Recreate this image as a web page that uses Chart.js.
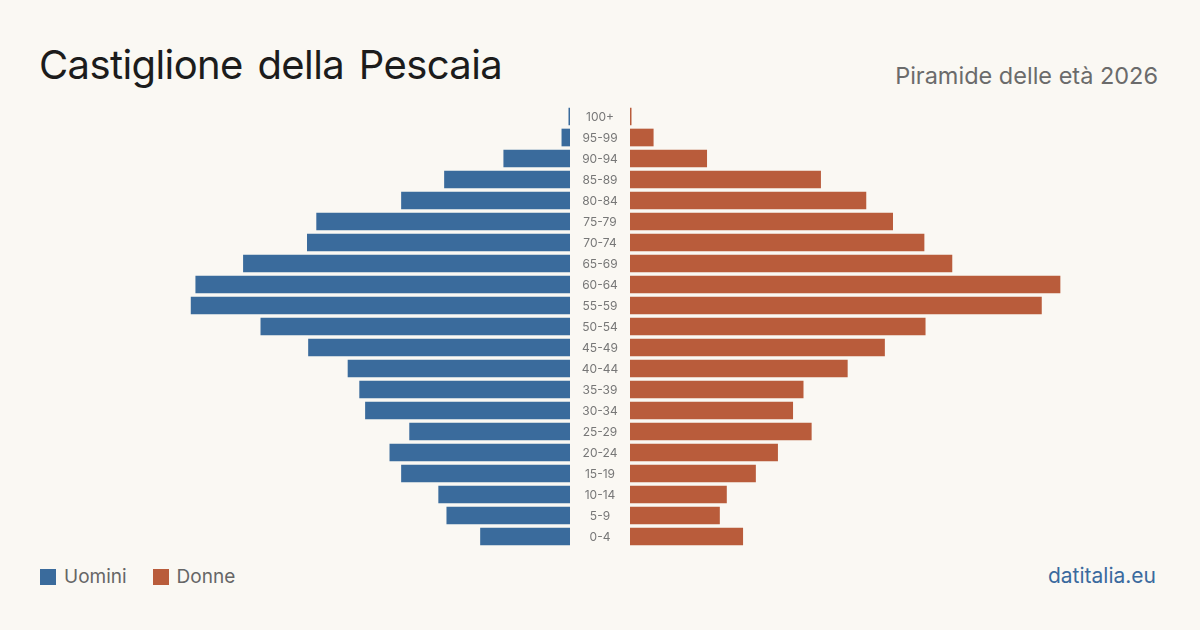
<!DOCTYPE html>
<html>
<head>
<meta charset="utf-8">
<script src="https://cdn.jsdelivr.net/npm/chart.js@4"></script>
<style>
  body { margin: 0; width: 1200px; height: 630px; background: #faf8f3; font-family: Inter, "Noto Sans", sans-serif; position: relative; overflow: hidden; }
  #title { position: absolute; left: 39px; top: 40px; font-size: 40px; color: #1c1c1c; letter-spacing: -0.6px; word-spacing: 4px; }
  #subtitle { position: absolute; right: 42px; top: 61px; font-size: 23.5px; color: #6b6b6b; }
  #left { position: absolute; left: 90px; top: 106px; }
  #right { position: absolute; left: 570px; top: 106px; }
  #legend { position: absolute; left: 40px; top: 565px; font-size: 19px; color: #666; display: flex; align-items: center; }
  #legend span.sw { display: inline-block; width: 16px; height: 16px; margin-right: 8px; }
  #legend span.lb { margin-right: 26px; }
  #source { position: absolute; right: 44px; top: 563px; font-size: 21px; color: #3a6a9e; }
</style>
</head>
<body>
<div id="title">Castiglione della Pescaia</div>
<div id="subtitle">Piramide delle età 2026</div>
<div id="left"><canvas id="menChart" width="480" height="441"></canvas></div>
<div id="right"><canvas id="womenChart" width="540" height="441"></canvas></div>
<div id="legend">
  <span class="sw" style="background:#3a6b9c"></span><span class="lb">Uomini</span>
  <span class="sw" style="background:#b95c3b"></span><span class="lb">Donne</span>
</div>
<div id="source">datitalia.eu</div>
<script>
const ageGroups = ['100+', '95-99', '90-94', '85-89', '80-84', '75-79', '70-74', '65-69', '60-64', '55-59',
    '50-54', '45-49', '40-44', '35-39', '30-34', '25-29', '20-24', '15-19', '10-14', '5-9', '0-4'];
const men = [1, 7, 57, 108, 145, 218, 226, 281, 322, 326, 266, 225, 191, 181, 176, 138, 155, 145, 113, 106, 77];
const women = [1, 20, 66, 164, 203, 226, 253, 277, 370, 354, 254, 219, 187, 149, 140, 156, 127, 108, 83, 77, 97];
const maxValue = 413;

const menColor = '#3a6b9c';
const womenColor = '#b95c3b';

// age labels centred in the gap left of the women's bars
const ageLabels = {
    id: 'ageLabels',
    afterDraw(chart) {
        const y = chart.scales.y;
        const ctx = chart.ctx;
        ctx.save();
        ctx.fillStyle = '#777';
        ctx.font = '12px Inter';
        ctx.textAlign = 'center';
        ctx.textBaseline = 'middle';
        ageGroups.forEach((lab, i) => {
            ctx.fillText(lab, 30, y.getPixelForValue(i) + 1);
        });
        ctx.restore();
    }
};

function makeChart(id, values, color, reverse, gap) {
    const ctx = document.getElementById(id).getContext('2d');
    return new Chart(ctx, {
        type: 'bar',
        data: {
            labels: ageGroups,
            datasets: [{
                data: values,
                backgroundColor: color,
                barThickness: 17,
                borderWidth: 0
            }]
        },
        options: {
            indexAxis: 'y',
            responsive: false,
            animation: false,
            layout: { padding: { left: gap } },
            plugins: { legend: { display: false }, tooltip: { enabled: false } },
            scales: {
                x: { display: false, min: 0, max: maxValue, reverse: reverse },
                y: { display: false }
            }
        },
        plugins: gap ? [ageLabels] : []
    });
}

makeChart('menChart', men, menColor, true, 0);
makeChart('womenChart', women, womenColor, false, 60);
</script>
</body>
</html>
